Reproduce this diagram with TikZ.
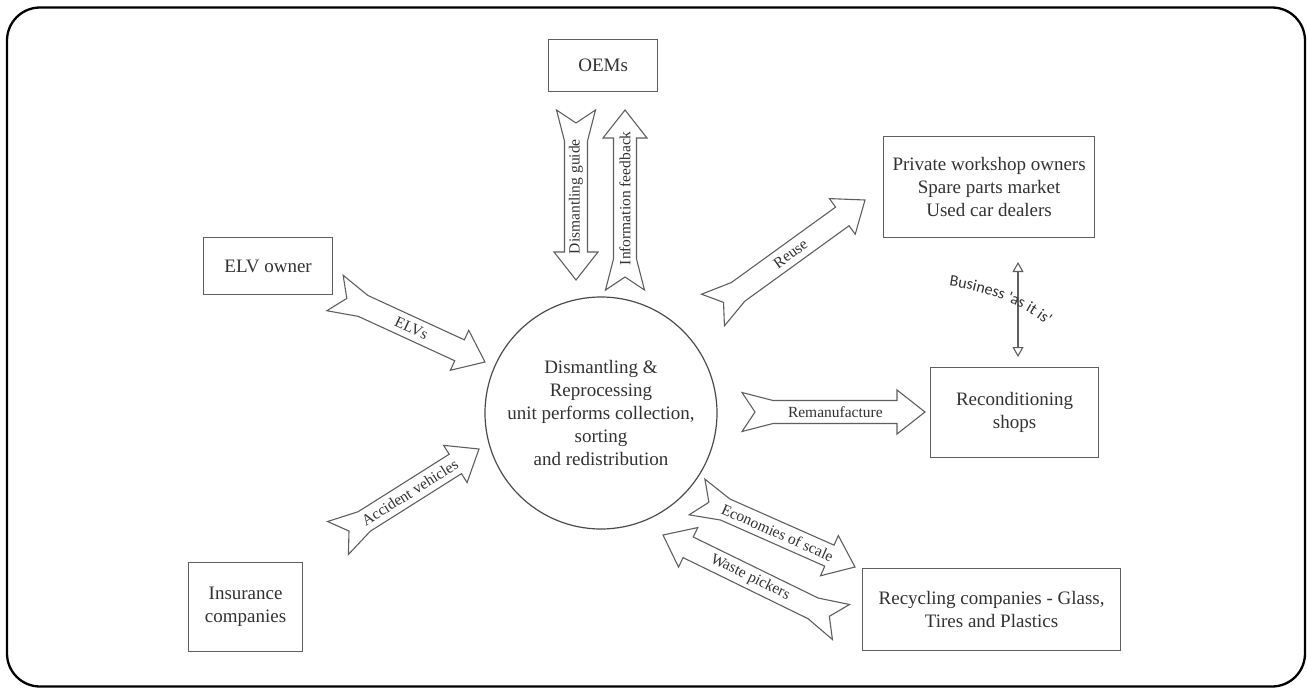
\documentclass[tikz,border=0pt]{standalone}
\usepackage{fontspec}
\setmainfont{Liberation Serif}
\newfontfamily\bizfont{Carlito}
\usetikzlibrary{calc,arrows.meta,decorations.text}
\definecolor{lgray}{RGB}{95,95,95}
\definecolor{cgray}{RGB}{75,75,75}
\definecolor{tgray}{RGB}{50,50,50}
\tikzset{
  box/.style={draw=lgray, line width=1.2pt, anchor=north west, align=center,
    text=tgray, inner sep=0pt, font=\fontsize{19}{23}\selectfont},
  hub/.style={circle, draw=cgray, line width=1.2pt, minimum size=232pt, inner sep=0pt,
    align=center, text=tgray, font=\fontsize{19}{23}\selectfont},
  barrowstyle/.style={draw=lgray, fill=white, line width=1.1pt, line join=miter},
  albl/.style={text=tgray, inner sep=0pt, font=\fontsize{15.5}{18}\selectfont},
  twoway/.style={draw=lgray, line width=1.1pt,
    {Triangle[open,length=10pt,width=11pt]}-{Triangle[open,length=10pt,width=11pt]}}
}
% #1 tail coordinate, #2 tip coordinate, #3 label, #4 label node name
\newcommand\blockarrow[4]{%
  \pgfpointdiff{\pgfpointanchor{#1}{center}}{\pgfpointanchor{#2}{center}}%
  \pgfgetlastxy{\baX}{\baY}%
  \pgfmathsetmacro\baang{atan2(\baY,\baX)}%
  \pgfmathsetmacro\balen{veclen(\baX,\baY)}%
  \pgfmathsetmacro\lblang{\baang>90.5 ? \baang-180 : (\baang< -89.5 ? \baang+180 : \baang)}%
  \begin{scope}[shift={(#1)}, rotate=\baang]
    \draw[barrowstyle] (0,19.5) -- (13,0) -- (0,-19.5) -- (31,-11.5)
      -- ({\balen-28},-11.5) -- ({\balen-28},-22) -- (\balen,0)
      -- ({\balen-28},22) -- ({\balen-28},11.5) -- (31,11.5) -- cycle;
  \end{scope}
  \node[albl, rotate=\lblang] (#4) at ($(#1)!0.51!(#2)$) {#3};
}
\begin{document}
\begin{tikzpicture}[x=1pt, y=-1pt]
\useasboundingbox (0,0) rectangle (1307,688);
\draw[line width=2.3pt, rounded corners=33pt] (7,7.5) rectangle (1305,686.5);

% nodes
\node[box, minimum width=109pt, minimum height=52pt] (oem) at (548,39) {OEMs};
\node[box, minimum width=129pt, minimum height=57pt] (elv) at (203,237) {ELV owner};
\node[box, minimum width=114pt, minimum height=89pt] (ins) at (188,562) {Insurance\\companies};
\node[box, minimum width=211pt, minimum height=101pt] (pws) at (883,136)
  {Private workshop owners\\Spare parts market\\Used car dealers};
\node[box, minimum width=168pt, minimum height=90pt] (rcs) at (930,367) {Reconditioning\\shops};
\node[box, minimum width=258pt, minimum height=82pt] (rcy) at (862,568)
  {Recycling companies - Glass,\\Tires and Plastics};
\node[hub] (hub) at (601,413)
  {Dismantling \&\\Reprocessing\\unit performs collection,\\sorting\\and redistribution};

% connector end points
\coordinate (elvT) at (335,293);  \coordinate (elvH) at (485,362);
\coordinate (accT) at (338,538);  \coordinate (accH) at (479,449);
\coordinate (dgT)  at (576,110);  \coordinate (dgH)  at (576,280);
\coordinate (ifT)  at (625,290);  \coordinate (ifH)  at (625,110);
\coordinate (reuT) at (713,310);  \coordinate (reuH) at (865,200);
\coordinate (remT) at (742,412);  \coordinate (remH) at (925,412);
\coordinate (ecoT) at (697,497);  \coordinate (ecoH) at (855,567);
\coordinate (wasT) at (841,622);  \coordinate (wasH) at (663,535);
\coordinate (bizT) at (1018,262); \coordinate (bizH) at (1018,357);

\blockarrow{elvT}{elvH}{ELVs}{elvL}
\blockarrow{accT}{accH}{Accident vehicles}{accL}
\blockarrow{dgT}{dgH}{Dismantling guide}{dgL}
\blockarrow{ifT}{ifH}{Information feedback}{ifL}
\blockarrow{reuT}{reuH}{Reuse}{reuL}
\blockarrow{remT}{remH}{Remanufacture}{remL}
\blockarrow{ecoT}{ecoH}{Economies of scale}{ecoL}
\blockarrow{wasT}{wasH}{Waste pickers}{wasL}

\draw[twoway] (bizT) -- (bizH);
\path[decorate, decoration={text along path, text color=tgray,
   text={|\bizfont\fontsize{16}{18}\selectfont|Business 'as it is'}}]
   (949,286) .. controls (990,292) and (1025,305) .. (1054,331);
\end{tikzpicture}
\end{document}
